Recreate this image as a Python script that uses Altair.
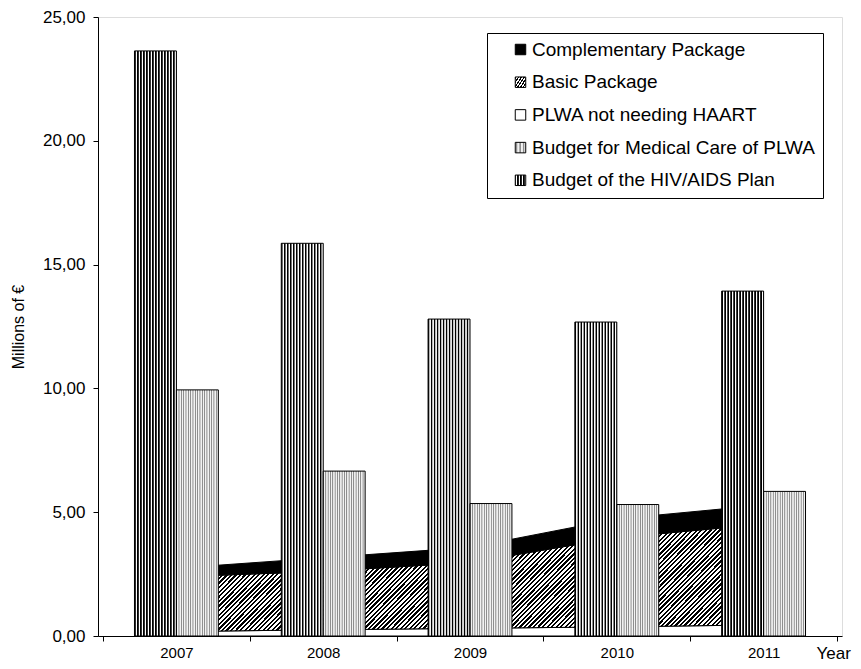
import altair as alt
import pandas as pd

# ---- data ----
YEARS = [2007, 2008, 2009, 2010, 2011]
HIV_PLAN = [23.63, 15.86, 12.80, 12.68, 13.93]      # Budget of the HIV/AIDS Plan
MED_CARE = [9.94, 6.66, 5.35, 5.31, 5.84]           # Budget for Medical Care of PLWA
PLWA_NO_HAART = [0.18, 0.25, 0.31, 0.37, 0.45]      # PLWA not needing HAART (stack bottom)
BASIC = [2.21, 2.36, 2.66, 3.60, 4.07]              # Basic Package (stack middle)
COMPLEMENTARY = [0.35, 0.55, 0.61, 0.76, 0.77]      # Complementary Package (stack top)

SERIES = [
    "Complementary Package",
    "Basic Package",
    "PLWA not needing HAART",
    "Budget for Medical Care of PLWA",
    "Budget of the HIV/AIDS Plan",
]

# ---- layout / style ----
W, H = 744, 619
YMAX = 25
HALF = 0.2856
FONT = "Liberation Sans"


def periodic_gradient(n, period, x2=1.0, y2=0.0):
    """period: list of (fraction within one period, colour)"""
    stops = []
    for i in range(n):
        for f, col in period:
            stops.append("{offset:%.5f,color:'%s'}" % ((i + f) / n, col))
    return ("{gradient:'linear',x1:0,y1:0,x2:%.5f,y2:%.5f,stops:[" % (x2, y2)
            + ",".join(stops) + "]}")


# diagonal hatch for the Basic Package area, 45 degrees in pixel space
tops = [p + b for p, b in zip(PLWA_NO_HAART, BASIC)]
area_w = (len(YEARS) - 1) * W / len(YEARS)
area_h = (max(tops) - min(PLWA_NO_HAART)) * H / YMAX
r = area_h / area_w
a = (1 + r) / (1 + r * r)
n_hatch = int(round((area_w + area_h) / 4.6))
hatch = periodic_gradient(
    n_hatch, [(0, "black"), (0.5, "black"), (0.5, "white"), (1.0, "white")],
    x2=a, y2=a * r)
vstripes = periodic_gradient(
    14, [(0, "#000000"), (0.3, "#000000"), (0.55, "#ffffff"), (0.8, "#ffffff"), (1.0, "#000000")])
dots = periodic_gradient(
    18, [(0, "#8e8e8e"), (0.2, "#8e8e8e"), (0.45, "#f2f2f2"), (0.8, "#f2f2f2"), (1.0, "#8e8e8e")])

FILLS = [
    alt.ExprRef("'black'"),
    alt.ExprRef(hatch),
    alt.ExprRef("'white'"),
    alt.ExprRef(dots),
    alt.ExprRef(vstripes),
]

area_rows = []
for i, y in enumerate(YEARS):
    area_rows.append({"year": y, "series": SERIES[2], "value": PLWA_NO_HAART[i], "ord": 0})
    area_rows.append({"year": y, "series": SERIES[1], "value": BASIC[i], "ord": 1})
    area_rows.append({"year": y, "series": SERIES[0], "value": COMPLEMENTARY[i], "ord": 2})
area_df = pd.DataFrame(area_rows)

bar_rows = []
for i, y in enumerate(YEARS):
    bar_rows.append({"year": y, "series": SERIES[4], "value": HIV_PLAN[i], "side": -1})
    bar_rows.append({"year": y, "series": SERIES[3], "value": MED_CARE[i], "side": 1})
bar_df = pd.DataFrame(bar_rows)

xscale = alt.Scale(domain=[2006.5, 2011.5], nice=False, zero=False)
yscale = alt.Scale(domain=[0, YMAX], nice=False)

xaxis = alt.Axis(
    values=[2006.5, 2007, 2007.5, 2008, 2008.5, 2009, 2009.5, 2010, 2010.5, 2011, 2011.5],
    labelExpr="datum.value % 1 == 0 ? '' + datum.value : ''",
    tickOpacity={"condition": {"test": "datum.value % 1 == 0", "value": 0}, "value": 1},
    labelOverlap=False,
    grid=False,
    tickSize=5,
    labelPadding=4,
    labelFont=FONT,
    labelFontSize=15,
    labelColor="black",
    domainColor="black",
    tickColor="black",
    title="Year",
    titleFont=FONT,
    titleFontSize=17,
    titleFontWeight="normal",
    titleColor="black",
    titleAlign="left",
    titleAnchor="start",
    titleBaseline="alphabetic",
    titleX=718,
    titleY=22,
)

yaxis = alt.Axis(
    values=[0, 5, 10, 15, 20, 25],
    labelExpr="replace(format(datum.value, '.2f'), '.', ',')",
    grid=False,
    tickSize=5,
    labelPadding=8,
    labelFont=FONT,
    labelFontSize=17,
    labelColor="black",
    domainColor="black",
    tickColor="black",
    title="Millions of €",
    titleFont=FONT,
    titleFontSize=16,
    titleFontWeight="normal",
    titleColor="black",
    titlePadding=16,
)

color_enc = alt.Color(
    "series:N",
    scale=alt.Scale(domain=SERIES, range=FILLS),
    legend=alt.Legend(
        title=None,
        orient="none",
        legendX=389,
        legendY=16,
        symbolType="square",
        symbolSize=110,
        symbolStrokeColor="black",
        symbolStrokeWidth=1,
        symbolOffset=17,
        labelFont=FONT,
        labelFontSize=19,
        labelColor="black",
        labelLimit=400,
        labelOffset=2,
        rowPadding=12.7,
        padding=7,
        strokeColor="black",
        fillColor="white",
    ),
)

areas = alt.Chart(area_df).mark_area(
    stroke="black", strokeWidth=1, opacity=1, interpolate="linear"
).encode(
    x=alt.X("year:Q", scale=xscale, axis=xaxis),
    y=alt.Y("value:Q", stack="zero", scale=yscale, axis=yaxis),
    color=color_enc,
    order=alt.Order("ord:Q", sort="ascending"),
)

bars = alt.Chart(bar_df).transform_calculate(
    x0="datum.side < 0 ? datum.year - %f : datum.year" % HALF,
    x1="datum.side < 0 ? datum.year : datum.year + %f" % HALF,
).mark_bar(stroke="black", strokeWidth=1, opacity=1, orient="vertical").encode(
    x=alt.X("x0:Q", scale=xscale, axis=xaxis),
    x2="x1:Q",
    y=alt.Y("value:Q", stack=None, scale=yscale, axis=yaxis),
    y2=alt.datum(0),
    color=color_enc,
)

chart = alt.layer(areas, bars).properties(
    width=W,
    height=H,
    autosize=alt.AutoSizeParams(type="none"),
    padding={"left": 90, "top": 9, "right": 11, "bottom": 25},
).configure_view(
    stroke="black", strokeWidth=1
).configure(
    font=FONT, background="white"
)

chart.save("out.html", embed_options={"renderer": "svg", "actions": False})
